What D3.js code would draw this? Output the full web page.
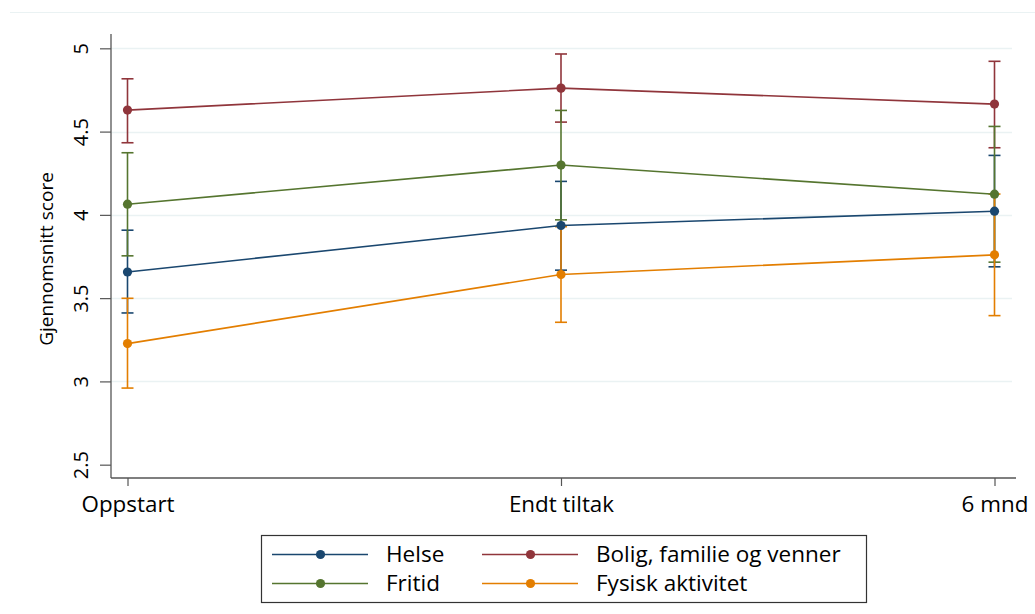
<!DOCTYPE html>
<html>
<head>
<meta charset="utf-8">
<script src="https://cdn.jsdelivr.net/npm/d3@7"></script>
<style>
  html, body { margin: 0; padding: 0; background: #ffffff; }
  svg { display: block; font-family: "Open Sans", "Liberation Sans", sans-serif; }
</style>
</head>
<body>
<svg id="chart" width="1035" height="614"></svg>
<script>
// ---- data ----
const categories = ["Oppstart", "Endt tiltak", "6 mnd"];
const seriesNames = ["Helse", "Bolig, familie og venner", "Fritid", "Fysisk aktivitet"];
const seriesColors = ["#1a476f", "#90353b", "#55752f", "#e37e00"];
const helseMean  = [3.657, 3.936, 4.022];
const helseLow   = [3.411, 3.668, 3.688];
const helseHigh  = [3.908, 4.201, 4.357];
const boligMean  = [4.629, 4.761, 4.665];
const boligLow   = [4.433, 4.557, 4.403];
const boligHigh  = [4.817, 4.966, 4.922];
const fritidMean = [4.064, 4.299, 4.124];
const fritidLow  = [3.754, 3.970, 3.716];
const fritidHigh = [4.373, 4.627, 4.531];
const fysiskMean = [3.227, 3.642, 3.760];
const fysiskLow  = [2.960, 3.355, 3.395];
const fysiskHigh = [3.499, 3.929, 4.125];
const yTicks = [2.5, 3, 3.5, 4, 4.5, 5];
const gridTicks = [3, 3.5, 4, 4.5, 5];
const yTitle = "Gjennomsnitt score";

const series = [
  {name: seriesNames[0], color: seriesColors[0], mean: helseMean, low: helseLow, high: helseHigh},
  {name: seriesNames[1], color: seriesColors[1], mean: boligMean, low: boligLow, high: boligHigh},
  {name: seriesNames[2], color: seriesColors[2], mean: fritidMean, low: fritidLow, high: fritidHigh},
  {name: seriesNames[3], color: seriesColors[3], mean: fysiskMean, low: fysiskLow, high: fysiskHigh}
];

// ---- layout ----
const svg = d3.select("#chart");
const axisX = 111, axisBottom = 478, axisTop = 34, axisRight = 1016;

const y = d3.scaleLinear().domain([2.42, 5.086]).range([axisBottom, axisTop]);
const x = d3.scalePoint().domain(categories).range([127.5, 994.5]);

// faint outer line at top
svg.append("line").attr("x1", 10).attr("x2", 1035).attr("y1", 12.5).attr("y2", 12.5)
  .attr("stroke", "#eaf2f3").attr("stroke-width", 1);

// gridlines
svg.append("g").selectAll("line").data(gridTicks).join("line")
  .attr("x1", axisX).attr("x2", 1012)
  .attr("y1", d => Math.round(y(d)) + 0.5).attr("y2", d => Math.round(y(d)) + 0.5)
  .attr("stroke", "#eaf2f3").attr("stroke-width", 1.5);

// y axis
const yAxis = svg.append("g").attr("transform", `translate(${axisX},0)`)
  .call(d3.axisLeft(y).tickValues(yTicks).tickFormat(d3.format("")).tickSize(11).tickSizeOuter(0));
yAxis.select(".domain").remove();
yAxis.append("line").attr("x1", 0).attr("x2", 0).attr("y1", axisTop).attr("y2", axisBottom)
  .attr("stroke", "#555").attr("stroke-width", 1.3);
yAxis.selectAll(".tick line").attr("stroke", "#555").attr("stroke-width", 1.2);
yAxis.selectAll(".tick text")
  .attr("transform", "rotate(-90)")
  .attr("x", 0).attr("y", -23).attr("dy", null)
  .attr("text-anchor", "middle")
  .attr("fill", "#000").attr("font-size", 20)
  .style("font-family", '"Open Sans", sans-serif');

// x axis
const xAxis = svg.append("g").attr("transform", `translate(0,${axisBottom})`)
  .call(d3.axisBottom(x).tickSize(8).tickSizeOuter(0));
xAxis.select(".domain").remove();
xAxis.append("line").attr("x1", axisX).attr("x2", axisRight).attr("y1", 0).attr("y2", 0)
  .attr("stroke", "#555").attr("stroke-width", 1.3);
xAxis.selectAll(".tick line").attr("stroke", "#555").attr("stroke-width", 1.2);
xAxis.selectAll(".tick text")
  .attr("y", 33.5).attr("dy", null)
  .attr("fill", "#000").attr("font-size", 22.4)
  .style("font-family", '"Open Sans", sans-serif');

// y title
svg.append("text")
  .attr("transform", `translate(53,259) rotate(-90)`)
  .attr("text-anchor", "middle")
  .attr("font-size", 19)
  .attr("fill", "#000")
  .text(yTitle);

// error bars
const capW = 6;
series.forEach(s => {
  const g = svg.append("g");
  categories.forEach((c, i) => {
    const cx = x(c);
    g.append("line").attr("x1", cx).attr("x2", cx).attr("y1", y(s.low[i])).attr("y2", y(s.high[i]))
      .attr("stroke", s.color).attr("stroke-width", 1.6);
    [s.low[i], s.high[i]].forEach(v => {
      g.append("line").attr("x1", cx - capW).attr("x2", cx + capW).attr("y1", y(v)).attr("y2", y(v))
        .attr("stroke", s.color).attr("stroke-width", 1.6);
    });
  });
});

// lines
const lineGen = d3.line().x((d, i) => x(categories[i])).y(d => y(d));
series.forEach(s => {
  svg.append("path").attr("d", lineGen(s.mean)).attr("fill", "none")
    .attr("stroke", s.color).attr("stroke-width", 1.6);
});

// points
series.forEach(s => {
  svg.append("g").selectAll("circle").data(s.mean).join("circle")
    .attr("cx", (d, i) => x(categories[i])).attr("cy", d => y(d)).attr("r", 4.6)
    .attr("fill", s.color);
});

// legend
const legend = svg.append("g");
legend.append("rect").attr("x", 261.5).attr("y", 535.5).attr("width", 605).attr("height", 67)
  .attr("fill", "#fff").attr("stroke", "#333").attr("stroke-width", 1.2);
const legPos = [
  {lx: 272, ly: 554.5, tx: 386, ty: 561.5},
  {lx: 482, ly: 554.5, tx: 596, ty: 561.5},
  {lx: 272, ly: 583.5, tx: 386, ty: 590.5},
  {lx: 482, ly: 583.5, tx: 596, ty: 590.5}
];
series.forEach((s, i) => {
  const p = legPos[i];
  legend.append("line").attr("x1", p.lx).attr("x2", p.lx + 96).attr("y1", p.ly).attr("y2", p.ly)
    .attr("stroke", s.color).attr("stroke-width", 1.6);
  legend.append("circle").attr("cx", p.lx + 48.5).attr("cy", p.ly).attr("r", 4.6).attr("fill", s.color);
  legend.append("text").attr("x", p.tx).attr("y", p.ty).attr("font-size", 22.5).attr("fill", "#000").text(s.name);
});
</script>
</body>
</html>
